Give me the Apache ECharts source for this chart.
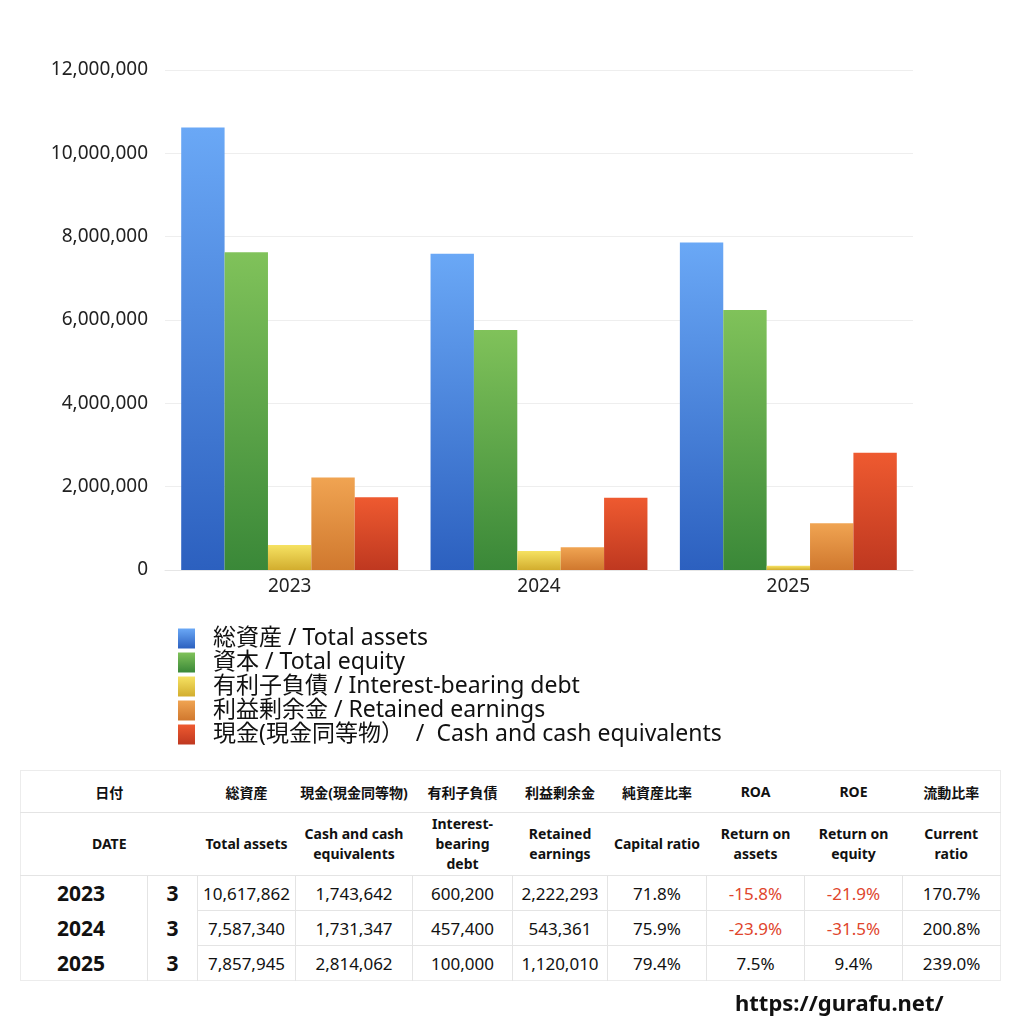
<!DOCTYPE html>
<html>
<head>
<meta charset="utf-8">
<script src="https://cdn.jsdelivr.net/npm/echarts@6/dist/echarts.min.js"></script>
<style>
  html, body { margin: 0; padding: 0; background: #fff; }
  body { width: 1024px; height: 1024px; position: relative; overflow: hidden; font-family: "Noto Sans", "Noto Sans CJK JP", sans-serif; }
  #chart { position: absolute; left: 0; top: 0; width: 1024px; height: 1024px; }
  table { position: absolute; left: 20px; top: 770px; border-collapse: collapse; table-layout: fixed; color: #111; z-index: 2; background: #fff; }
  td { padding: 0; text-align: center; vertical-align: middle; border: none; }
  .h1 td { height: 41px; font-size: 14px; font-weight: bold; border-bottom: 1px solid #e4e4e4; }
  .h2 td { height: 62px; font-size: 14px; font-weight: bold; line-height: 20px; border-bottom: 1px solid #e4e4e4; }
  .d td { height: 34px; font-size: 17px; }
  .d td.yr { font-size: 21px; font-weight: bold; text-align: left; padding-left: 36px; }
  .d td.mo { font-size: 21px; font-weight: bold; border-left: 1px solid #e4e4e4; }
  .d td.v { border-left: 1px solid #e4e4e4; }
  .d + .d td.v { border-top: 1px solid #e4e4e4; }
  .neg { color: #e0452c; }
  #tbl { border: 1px solid #ececec; }
  #url { position: absolute; left: 735px; top: 987px; font-size: 22px; font-weight: bold; color: #111; z-index: 2; }
</style>
</head>
<body>
<div id="chart"></div>
<table id="tbl">
  <colgroup>
    <col style="width:127px"><col style="width:50px"><col style="width:98px"><col style="width:117px"><col style="width:100px"><col style="width:95px"><col style="width:99px"><col style="width:98px"><col style="width:98px"><col style="width:98px">
  </colgroup>
  <tbody id="tbody"></tbody>
</table>
<div id="url">https://gurafu.net/</div>
<script>
const categories = ['2023', '2024', '2025'];
const seriesNames = [
  '総資産 / Total assets',
  '資本 / Total equity',
  '有利子負債 / Interest-bearing debt',
  '利益剰余金 / Retained earnings',
  '現金(現金同等物）  /  Cash and cash equivalents'
];
const totalAssets = [10617862, 7587340, 7857945];
const totalEquity = [7623625, 5758791, 6239208];
const interestDebt = [600200, 457400, 100000];
const retainedEarnings = [2222293, 543361, 1120010];
const cashEquivalents = [1743642, 1731347, 2814062];
const yTicks = [0, 2000000, 4000000, 6000000, 8000000, 10000000, 12000000];

const months = ['3', '3', '3'];
const capitalRatio = ['71.8%', '75.9%', '79.4%'];
const roa = ['-15.8%', '-23.9%', '7.5%'];
const roe = ['-21.9%', '-31.5%', '9.4%'];
const currentRatio = ['170.7%', '200.8%', '239.0%'];

const headJa = ['日付', '総資産', '現金(現金同等物)', '有利子負債', '利益剰余金', '純資産比率', 'ROA', 'ROE', '流動比率'];
const headEn = ['DATE', 'Total assets', 'Cash and cash<br>equivalents', 'Interest-<br>bearing<br>debt', 'Retained<br>earnings', 'Capital ratio', 'Return on<br>assets', 'Return on<br>equity', 'Current<br>ratio'];

const gradients = [
  ['#6aa8f6', '#2c60bf'],
  ['#80c25a', '#3a8838'],
  ['#f6e262', '#d2ad2e'],
  ['#f0a452', '#d0782e'],
  ['#ee5a30', '#bf3820']
];
const dataSets = [totalAssets, totalEquity, interestDebt, retainedEarnings, cashEquivalents];

function grad(c) {
  return new echarts.graphic.LinearGradient(0, 0, 0, 1, [
    { offset: 0, color: c[0] }, { offset: 1, color: c[1] }
  ]);
}

const chart = echarts.init(document.getElementById('chart'));
const fontFamily = '"Noto Sans", "Noto Sans CJK JP", sans-serif';
chart.setOption({
  animation: false,
  textStyle: { fontFamily: fontFamily },
  grid: { left: 165, right: 111, top: 70, height: 500, containLabel: false },
  legend: {
    orient: 'vertical',
    left: 173,
    top: 622,
    padding: 5,
    itemWidth: 17,
    itemHeight: 20,
    itemGap: 1,
    icon: 'rect',
    textStyle: { fontSize: 23, color: '#111', lineHeight: 20, fontFamily: fontFamily, padding: [0, 0, 0, 13] },
    data: seriesNames
  },
  xAxis: {
    type: 'category',
    data: categories,
    axisTick: { show: false },
    axisLine: { lineStyle: { color: '#e6e6e6' } },
    axisLabel: { fontSize: 19, color: '#222', margin: 7 }
  },
  yAxis: {
    type: 'value',
    min: yTicks[0],
    max: yTicks[yTicks.length - 1],
    interval: 2000000,
    axisLine: { show: false },
    axisTick: { show: false },
    splitLine: { lineStyle: { color: '#eeeeee' } },
    axisLabel: {
      fontSize: 19, color: '#222', margin: 17,
      formatter: v => v.toLocaleString('en-US')
    }
  },
  series: seriesNames.map((n, i) => ({
    name: n,
    type: 'bar',
    data: dataSets[i],
    barGap: '0%',
    barCategoryGap: '13%',
    itemStyle: { color: grad(gradients[i]) }
  }))
});

// table
const fmt = v => v.toLocaleString('en-US');
const tb = document.getElementById('tbody');
let html = '<tr class="h1"><td colspan="2">' + headJa[0] + '</td>';
for (let i = 1; i < headJa.length; i++) html += '<td>' + headJa[i] + '</td>';
html += '</tr><tr class="h2"><td colspan="2">' + headEn[0] + '</td>';
for (let i = 1; i < headEn.length; i++) html += '<td>' + headEn[i] + '</td>';
html += '</tr>';
const neg = s => s.trim().startsWith('-') ? ' neg' : '';
for (let r = 0; r < categories.length; r++) {
  html += '<tr class="d"><td class="yr">' + categories[r] + '</td><td class="mo">' + months[r] + '</td>' +
    '<td class="v">' + fmt(totalAssets[r]) + '</td>' +
    '<td class="v">' + fmt(cashEquivalents[r]) + '</td>' +
    '<td class="v">' + fmt(interestDebt[r]) + '</td>' +
    '<td class="v">' + fmt(retainedEarnings[r]) + '</td>' +
    '<td class="v">' + capitalRatio[r] + '</td>' +
    '<td class="v' + neg(roa[r]) + '">' + roa[r] + '</td>' +
    '<td class="v' + neg(roe[r]) + '">' + roe[r] + '</td>' +
    '<td class="v">' + currentRatio[r] + '</td></tr>';
}
tb.innerHTML = html;
</script>
</body>
</html>
